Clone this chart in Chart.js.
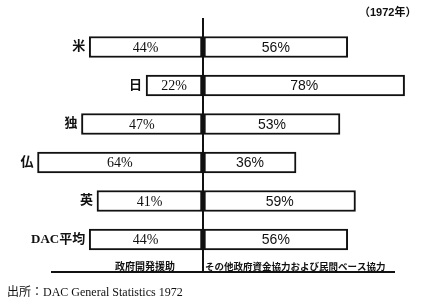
<!DOCTYPE html>
<html><head><meta charset="utf-8">
<script src="https://cdn.jsdelivr.net/npm/chart.js@4.4.0/dist/chart.umd.min.js"></script>
<style>
html,body{margin:0;padding:0;background:#fff;}
#wrap{position:relative;width:439px;height:302px;overflow:hidden;background:#fff;}
canvas{position:absolute;left:0;top:0;}
#title{position:absolute;left:359px;top:3px;line-height:14px;font:bold 11px "Liberation Sans","Noto Sans CJK JP";color:#111;white-space:nowrap;}
#source{position:absolute;left:7px;top:282px;line-height:14px;font:12px "Liberation Serif","Noto Sans CJK JP";color:#111;white-space:nowrap;}
</style></head><body>
<div id="wrap"><canvas id="c" width="439" height="302"></canvas>
<div id="title">（1972年）</div>
<div id="source">出所：DAC General Statistics 1972</div></div>
<script>
const categories = ['米','日','独','仏','英','DAC平均'];
const odaShare = [44,22,47,64,41,44];
const otherShare = [56,78,53,36,59,56];
const sideLabels = ['政府開発援助','その他政府資金協力および民間ベース協力'];

const labelPlugin = {
  id:'barLabels',
  afterDatasetsDraw(chart){
    const ctx = chart.ctx;
    const left = chart.getDatasetMeta(0).data;
    const right = chart.getDatasetMeta(1).data;
    const zero = chart.scales.x.getPixelForValue(0);
    ctx.save();
    ctx.fillStyle = '#111';
    ctx.textBaseline = 'middle';
    categories.forEach((cat,i)=>{
      const l = left[i], r = right[i];
      ctx.textAlign = 'center';
      ctx.font = '14px "Liberation Serif"';
      ctx.fillText(odaShare[i]+'%', (l.x+l.base)/2, l.y+1);
      ctx.font = '14px "Liberation Sans"';
      ctx.fillText(otherShare[i]+'%', (r.x+r.base)/2, r.y+1);
      ctx.textAlign = 'right';
      ctx.font = 'bold 13px "Liberation Serif","Noto Sans CJK JP"';
      ctx.fillText(cat, Math.min(l.x,l.base)-4, l.y);
    });
    const yb = chart.chartArea.bottom - 6;
    ctx.textAlign = 'right';
    ctx.font = 'bold 10px "Noto Sans CJK JP"';
    ctx.fillText(sideLabels[0], zero-28, yb);
    ctx.textAlign = 'left';
    ctx.font = 'bold 9.5px "Noto Sans CJK JP"';
    ctx.fillText(sideLabels[1], zero+2, yb);
    ctx.restore();
  }
};

const barStyle = {backgroundColor:'#fff', borderColor:'#111', borderWidth:2, borderSkipped:false, barThickness:21, grouped:false, clip:false};

new Chart(document.getElementById('c'), {
  type:'bar',
  data:{ datasets:[
    Object.assign({label: sideLabels[0], data: categories.map((c,i)=>({x:-odaShare[i], y:i}))}, barStyle),
    Object.assign({label: sideLabels[1], data: categories.map((c,i)=>({x:otherShare[i], y:i}))}, barStyle)
  ]},
  options:{
    indexAxis:'y', responsive:false, animation:false,
    layout:{padding:{left:52,right:45,top:18,bottom:30}},
    plugins:{legend:{display:false}, tooltip:{enabled:false}},
    scales:{
      x:{type:'linear', min:-58.4, max:73.9,
         ticks:{display:false},
         afterBuildTicks: s=>{ s.ticks=[{value:0}]; },
         grid:{drawTicks:false, lineWidth:2, offset:false, color: c => (c.tick && c.tick.value===0) ? '#111' : 'rgba(0,0,0,0)'},
         border:{display:true, color:'#111', width:2}},
      y:{type:'linear', reverse:true, offset:false, min:-0.753, max:5.844, display:false, grid:{offset:false}}
    }
  },
  plugins:[labelPlugin]
});
</script>
</body></html>
